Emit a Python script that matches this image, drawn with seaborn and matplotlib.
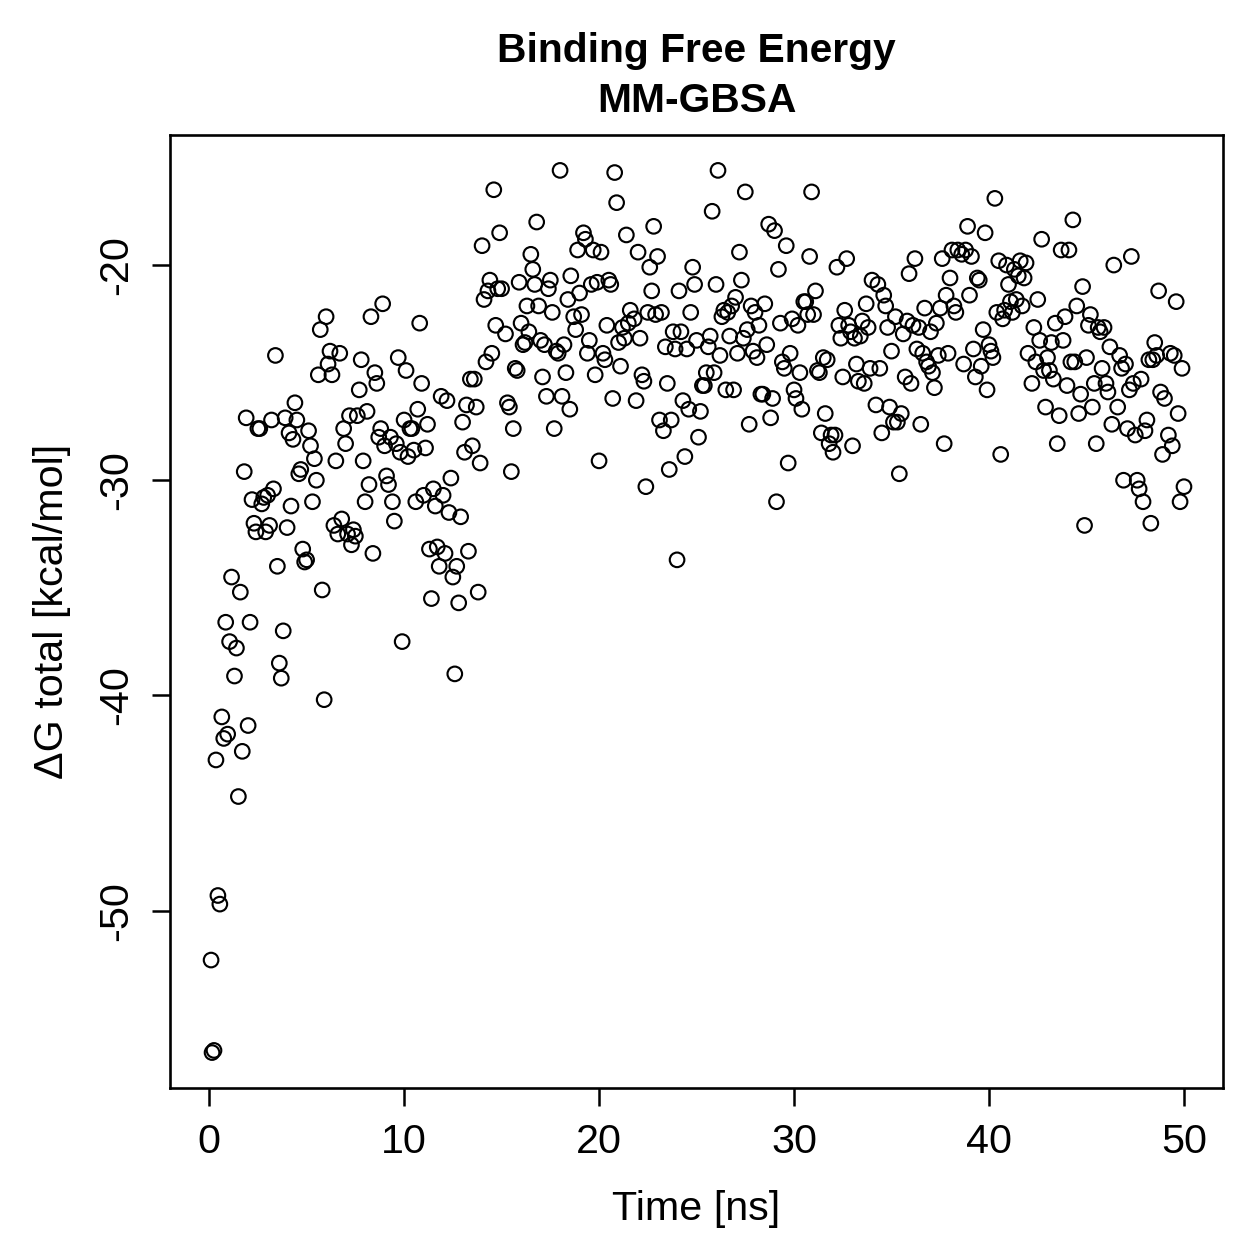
import matplotlib
matplotlib.use("Agg")
import matplotlib.pyplot as plt
from matplotlib import font_manager as fm
import seaborn as sns
import pandas as pd

time_ns = [0.1,0.15,0.25,0.35,0.45,0.55,0.65,0.75,0.85,0.95,1.05,1.15,1.3,1.4,1.5,1.6,1.7,1.8,1.9,2.0,
2.1,2.2,2.3,2.4,2.5,2.6,2.7,2.8,2.9,3.0,3.1,3.2,3.3,3.4,3.5,3.6,3.7,3.8,3.9,4.0,
4.1,4.2,4.3,4.4,4.5,4.6,4.7,4.8,4.9,5.0,5.1,5.2,5.3,5.4,5.5,5.6,5.7,5.8,5.9,6.0,
6.1,6.2,6.3,6.4,6.5,6.6,6.7,6.8,6.9,7.0,7.1,7.2,7.3,7.4,7.5,7.6,7.7,7.8,7.9,8.0,
8.1,8.2,8.3,8.4,8.5,8.6,8.7,8.8,8.9,9.0,9.1,9.2,9.3,9.4,9.5,9.6,9.7,9.8,9.9,10.0,
10.1,10.2,10.3,10.4,10.5,10.6,10.7,10.8,10.9,11.0,11.1,11.2,11.3,11.4,11.5,11.6,11.7,11.8,11.9,12.0,
12.1,12.2,12.3,12.4,12.5,12.6,12.7,12.8,12.9,13.0,13.1,13.2,13.3,13.4,13.5,13.6,13.7,13.8,13.9,14.0,
14.1,14.2,14.3,14.4,14.5,14.6,14.7,14.8,14.9,15.0,15.2,15.3,15.4,15.5,15.6,15.7,15.8,15.9,16.0,16.1,
16.2,16.3,16.4,16.5,16.6,16.7,16.8,16.9,17.0,17.1,17.2,17.3,17.4,17.5,17.6,17.7,17.8,17.9,18.0,18.1,
18.2,18.3,18.4,18.5,18.55,18.7,18.8,18.9,19.0,19.1,19.2,19.3,19.4,19.5,19.6,19.7,19.8,19.9,20.0,20.1,
20.2,20.3,20.4,20.5,20.6,20.7,20.8,20.9,21.0,21.1,21.2,21.3,21.4,21.5,21.6,21.8,21.9,22.0,22.1,22.2,
22.3,22.4,22.5,22.6,22.7,22.8,22.9,23.0,23.1,23.2,23.3,23.4,23.5,23.6,23.7,23.8,23.9,24.0,24.1,24.2,
24.3,24.4,24.5,24.6,24.7,24.8,24.9,25.0,25.1,25.2,25.3,25.4,25.5,25.6,25.7,25.8,25.9,26.0,26.1,26.2,
26.3,26.4,26.5,26.6,26.7,26.8,26.9,27.0,27.1,27.2,27.3,27.4,27.5,27.6,27.7,27.8,27.9,28.0,28.1,28.2,
28.3,28.4,28.5,28.6,28.7,28.8,28.9,29.0,29.1,29.2,29.3,29.4,29.5,29.6,29.7,29.8,29.9,30.0,30.1,30.2,
30.3,30.4,30.5,30.6,30.7,30.8,30.9,31.0,31.1,31.2,31.3,31.4,31.5,31.6,31.7,31.8,31.9,32.0,32.1,32.2,
32.3,32.4,32.5,32.6,32.7,32.8,32.9,33.0,33.1,33.2,33.3,33.4,33.5,33.6,33.7,33.8,33.9,34.0,34.2,34.3,
34.4,34.5,34.6,34.7,34.8,34.9,35.0,35.1,35.2,35.3,35.4,35.5,35.6,35.7,35.8,35.9,36.0,36.1,36.2,36.3,
36.4,36.5,36.6,36.7,36.8,36.9,37.0,37.1,37.2,37.3,37.4,37.5,37.6,37.7,37.8,37.9,38.0,38.1,38.2,38.3,
38.4,38.6,38.7,38.8,38.9,39.0,39.1,39.2,39.3,39.4,39.5,39.6,39.7,39.8,39.9,40.0,40.1,40.2,40.3,40.4,
40.5,40.6,40.7,40.8,40.9,41.0,41.1,41.2,41.3,41.4,41.5,41.6,41.7,41.8,41.9,42.0,42.2,42.3,42.4,42.5,
42.6,42.7,42.8,42.9,43.0,43.1,43.2,43.3,43.4,43.5,43.6,43.7,43.8,43.9,44.0,44.1,44.2,44.3,44.4,44.5,
44.6,44.7,44.8,44.9,45.0,45.1,45.2,45.3,45.4,45.5,45.6,45.7,45.8,45.9,46.0,46.1,46.2,46.3,46.4,46.6,
46.7,46.8,46.9,47.0,47.1,47.2,47.3,47.4,47.5,47.6,47.7,47.8,47.9,48.0,48.1,48.2,48.3,48.4,48.5,48.6,
48.7,48.8,48.9,49.0,49.2,49.3,49.4,49.5,49.6,49.7,49.8,49.9,50.0]

dg_total = [-52.3,-56.6,-56.5,-43.0,-49.3,-49.7,-41.0,-42.0,-36.6,-41.8,-37.5,-34.5,-39.1,-37.8,-44.7,-35.2,-42.6,-29.6,-27.1,-41.4,
-36.6,-30.9,-32.0,-32.4,-27.6,-27.6,-31.1,-30.8,-32.4,-30.7,-32.1,-27.2,-30.4,-24.2,-34.0,-38.5,-39.2,-37.0,-27.1,-32.2,
-27.8,-31.2,-28.1,-26.4,-27.2,-29.7,-29.5,-33.2,-33.8,-33.7,-27.7,-28.4,-31.0,-29.0,-30.0,-25.1,-23.0,-35.1,-40.2,-22.4,
-24.6,-24.0,-25.1,-32.1,-29.1,-32.5,-24.1,-31.8,-27.6,-28.3,-32.5,-27.0,-33.0,-32.3,-32.6,-27.0,-25.8,-24.4,-29.1,-31.0,
-26.8,-30.2,-22.4,-33.4,-25.0,-25.5,-28.0,-27.6,-21.8,-28.4,-29.8,-30.2,-28.0,-31.0,-31.9,-28.3,-24.3,-28.7,-37.5,-27.2,
-24.9,-28.9,-27.6,-27.6,-28.6,-31.0,-26.7,-22.7,-25.5,-30.7,-28.5,-27.4,-33.2,-35.5,-30.4,-31.2,-33.1,-34.0,-26.1,-30.7,
-33.4,-26.3,-31.5,-29.9,-34.5,-39.0,-34.0,-35.7,-31.7,-27.3,-28.7,-26.5,-33.3,-25.3,-28.4,-25.3,-26.6,-35.2,-29.2,-19.1,
-21.6,-24.5,-21.2,-20.7,-24.1,-16.5,-22.8,-21.1,-18.5,-21.1,-23.2,-26.4,-26.6,-29.6,-27.6,-24.8,-24.9,-20.8,-22.7,-23.7,
-23.6,-21.9,-23.1,-19.5,-20.2,-20.9,-18.0,-21.9,-23.5,-25.2,-23.7,-26.1,-21.1,-20.7,-22.2,-27.6,-24.0,-24.1,-15.6,-26.1,
-23.7,-25.0,-21.6,-26.7,-20.5,-22.4,-23.0,-19.3,-21.3,-22.3,-18.5,-18.8,-24.1,-23.5,-20.9,-19.3,-25.1,-20.8,-29.1,-19.4,
-24.1,-24.4,-22.8,-20.7,-20.9,-26.2,-15.7,-17.1,-23.6,-24.7,-22.9,-23.4,-18.6,-22.7,-22.1,-22.5,-26.3,-19.4,-23.4,-25.1,
-25.4,-30.3,-22.2,-20.1,-21.2,-18.2,-22.3,-19.6,-27.2,-22.2,-27.7,-23.8,-25.5,-29.5,-27.2,-23.1,-23.9,-33.7,-21.2,-23.1,
-26.3,-28.9,-23.9,-26.7,-22.2,-20.1,-20.9,-23.5,-28.0,-26.8,-25.6,-25.6,-25.0,-23.8,-23.3,-17.5,-25.0,-20.9,-15.6,-24.2,
-22.4,-22.1,-25.8,-22.2,-23.3,-21.9,-25.8,-21.5,-24.1,-19.4,-20.7,-23.4,-16.6,-23.0,-27.4,-21.9,-24.0,-22.2,-24.3,-22.8,
-26.0,-26.0,-21.8,-23.7,-18.1,-27.1,-26.2,-18.4,-31.0,-20.2,-22.7,-24.5,-24.8,-19.1,-29.2,-24.1,-22.5,-25.8,-26.2,-22.8,
-25.0,-26.7,-21.7,-21.7,-22.3,-19.6,-16.6,-22.3,-21.2,-24.9,-25.0,-27.8,-24.3,-26.9,-24.4,-28.3,-27.9,-28.7,-27.9,-20.1,
-22.8,-23.4,-25.2,-22.1,-19.7,-22.8,-23.1,-28.4,-23.4,-24.6,-25.4,-23.3,-22.6,-25.5,-21.8,-22.9,-24.8,-20.7,-26.5,-20.9,
-24.8,-27.8,-21.4,-21.9,-22.9,-26.6,-24.0,-27.3,-22.4,-27.3,-29.7,-26.9,-23.2,-25.2,-22.6,-20.4,-25.5,-22.8,-19.7,-23.9,
-22.9,-27.4,-24.1,-22.0,-24.5,-24.7,-23.1,-25.0,-25.7,-22.7,-24.2,-22.0,-19.7,-28.3,-21.4,-24.1,-20.6,-19.3,-21.9,-22.2,
-19.3,-19.5,-24.6,-19.3,-18.2,-21.4,-19.6,-23.9,-25.2,-20.6,-20.7,-24.7,-23.0,-18.5,-25.8,-23.7,-24.0,-24.3,-16.9,-22.2,
-19.8,-28.8,-22.5,-22.1,-20.0,-20.9,-21.7,-22.2,-20.2,-21.6,-20.5,-19.8,-21.9,-20.6,-19.9,-24.1,-25.5,-22.9,-24.5,-21.6,
-23.5,-18.8,-24.9,-26.6,-24.3,-24.9,-23.6,-25.3,-22.7,-28.3,-27.0,-19.3,-23.5,-22.4,-25.6,-19.3,-24.5,-17.9,-24.5,-21.9,
-26.9,-26.0,-21.0,-32.1,-24.3,-22.8,-22.3,-26.6,-25.5,-28.3,-22.9,-23.1,-24.8,-22.9,-25.5,-25.9,-23.8,-27.4,-20.0,-26.6,
-24.2,-24.8,-30.0,-24.6,-27.6,-25.8,-19.6,-25.5,-27.9,-30.0,-30.4,-25.3,-31.0,-27.7,-27.2,-24.4,-32.0,-24.4,-23.6,-24.2,
-21.2,-25.9,-28.8,-26.2,-27.9,-24.1,-28.4,-24.2,-21.7,-26.9,-31.0,-24.8,-30.3]

x_ticks = [0, 10, 20, 30, 40, 50]
y_ticks = [-50, -40, -30, -20]
title_lines = ["Binding Free Energy", "MM-GBSA"]
x_label = "Time [ns]"
y_label = "ΔG total [kcal/mol]"

df = pd.DataFrame({"time": time_ns, "dg": dg_total})

sns.set_style("ticks")
names = {f.name for f in fm.fontManager.ttflist}
if "Liberation Sans Narrow" in names:
    fam = ["Liberation Sans Narrow", "Liberation Sans", "DejaVu Sans"]
    fs_lab, fs_title = 19.5, 19.5
else:
    fam = ["Liberation Sans", "DejaVu Sans"]
    fs_lab, fs_title = 16.5, 16.3
plt.rcParams["font.family"] = fam
plt.rcParams["text.color"] = "black"
plt.rcParams["axes.labelcolor"] = "black"
plt.rcParams["xtick.color"] = "black"
plt.rcParams["ytick.color"] = "black"

W = H = 1259.0
fig = plt.figure(figsize=(7, 7), dpi=180)
ax = fig.add_axes([170 / W, 1 - 1087 / H, (1222 - 170) / W, (1087 - 135) / H])

sns.scatterplot(data=df, x="time", y="dg", ax=ax, marker="o",
                facecolor="none", edgecolor="black", s=34, linewidth=0.85,
                legend=False)

ax.set_xlim(-2, 52)
ax.set_ylim(-58.24, -13.96)
ax.set_xticks(x_ticks)
ax.set_yticks(y_ticks)
ax.set_xticklabels([str(v) for v in x_ticks])
ax.set_yticklabels([str(v) for v in y_ticks], rotation=90, va="center")
ax.tick_params(axis="both", direction="out", length=7.2, width=1.0,
               labelsize=fs_lab, colors="black", pad=7)
for sp in ax.spines.values():
    sp.set_visible(True)
    sp.set_linewidth(1.05)
    sp.set_color("black")
ax.set_xlabel("")
ax.set_ylabel("")

cx = (170 + 1222) / 2 / W
fig.text(cx, 1 - 1219 / H, x_label, ha="center", va="baseline", fontsize=fs_lab)
fig.text(52 / W, 1 - 611 / H, y_label, ha="center", va="center",
         rotation=90, fontsize=fs_lab)
fig.text(cx, 1 - 62 / H, title_lines[0], ha="center", va="baseline",
         fontsize=fs_title, fontweight="bold")
fig.text(cx, 1 - 112 / H, title_lines[1], ha="center", va="baseline",
         fontsize=fs_title, fontweight="bold")

fig.savefig("out.png", dpi=180, facecolor="white")
